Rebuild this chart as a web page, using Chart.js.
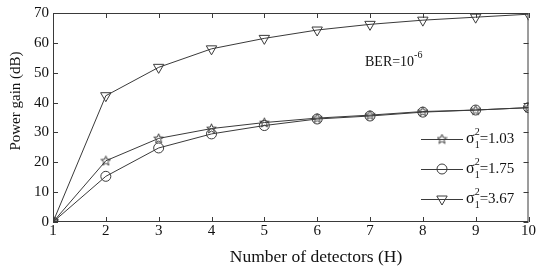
<!DOCTYPE html>
<html>
<head>
<meta charset="utf-8">
<script src="https://cdn.jsdelivr.net/npm/chart.js@4/dist/chart.umd.min.js"></script>
<style>
  html, body { margin: 0; padding: 0; background: #fff; }
  #wrap { width: 536px; height: 269px; }
</style>
</head>
<body>
<div id="wrap"><canvas id="myChart"></canvas></div>
<script>
// data
const detectors = [1, 2, 3, 4, 5, 6, 7, 8, 9, 10];
const gain103 = [0, 20.5, 28, 31.3, 33.3, 34.8, 35.8, 37, 37.5, 38.3];
const gain175 = [0, 15.3, 24.8, 29.5, 32.3, 34.5, 35.5, 36.8, 37.5, 38.3];
const gain367 = [0, 42.3, 51.8, 58, 61.5, 64.3, 66.2, 67.6, 68.6, 69.6];
const seriesLabels = ['1.03', '1.75', '3.67'];
const yTicks = [0, 10, 20, 30, 40, 50, 60, 70];
const xTitle = 'Number of detectors (H)';
const yTitle = 'Power gain (dB)';

const ink = '#3a3a3a';
const serif = '"Liberation Serif", "Times New Roman", serif';

// five point star marker, outline only
const starImg = document.createElement('canvas');
starImg.width = 11; starImg.height = 11;
(function () {
  const c = starImg.getContext('2d');
  c.strokeStyle = ink;
  c.lineWidth = 1;
  c.beginPath();
  for (let i = 0; i < 10; i++) {
    const r = i % 2 === 0 ? 5 : 2.2;
    const a = -Math.PI / 2 + i * Math.PI / 5;
    const px = 5.5 + r * Math.cos(a), py = 5.8 + r * Math.sin(a);
    if (i === 0) c.moveTo(px, py); else c.lineTo(px, py);
  }
  c.closePath();
  c.stroke();
})();

const markers = [
  { pointStyle: starImg, radius: 5, rotation: 0 },
  { pointStyle: 'circle', radius: 5, rotation: 0 },
  { pointStyle: 'triangle', radius: 6, rotation: 180 }
];

// box, inward ticks, titles, annotation and legend
const decor = {
  id: 'decor',
  afterDraw(chart) {
    const ctx = chart.ctx;
    const a = chart.chartArea;
    const xs = chart.scales.x, ys = chart.scales.y;
    ctx.save();
    ctx.strokeStyle = ink;
    ctx.lineWidth = 1;
    ctx.strokeRect(a.left + 0.5, a.top + 0.5, a.right - a.left - 1, a.bottom - a.top - 1);
    ctx.beginPath();
    detectors.forEach(v => {
      const px = Math.round(xs.getPixelForValue(v)) + 0.5;
      ctx.moveTo(px, a.bottom); ctx.lineTo(px, a.bottom - 5);
      ctx.moveTo(px, a.top); ctx.lineTo(px, a.top + 5);
    });
    yTicks.forEach(v => {
      const py = Math.round(ys.getPixelForValue(v)) + 0.5;
      ctx.moveTo(a.left, py); ctx.lineTo(a.left + 5, py);
      ctx.moveTo(a.right, py); ctx.lineTo(a.right - 5, py);
    });
    ctx.stroke();

    // axis titles (sit a little off centre in the original)
    ctx.fillStyle = '#111';
    ctx.textBaseline = 'middle';
    ctx.textAlign = 'center';
    ctx.font = '17.5px ' + serif;
    ctx.fillText(xTitle, 316, 257);
    ctx.save();
    ctx.translate(16, 101);
    ctx.rotate(-Math.PI / 2);
    ctx.font = '15px ' + serif;
    ctx.fillText(yTitle, 0, 0);
    ctx.restore();

    // BER annotation
    ctx.textAlign = 'left';
    ctx.font = '14px ' + serif;
    const bx = 365, by = 62;
    ctx.fillText('BER=10', bx, by);
    const bw = ctx.measureText('BER=10').width;
    ctx.font = '10px ' + serif;
    ctx.fillText('-6', bx + bw, by - 7);

    // legend
    const rows = [139, 169, 199];
    seriesLabels.forEach((lab, i) => {
      const y = rows[i];
      ctx.strokeStyle = ink;
      ctx.beginPath();
      ctx.moveTo(421, y + 0.5); ctx.lineTo(463, y + 0.5);
      ctx.stroke();
      ctx.fillStyle = 'rgba(0,0,0,0)';
      Chart.helpers.drawPoint(ctx, { pointStyle: markers[i].pointStyle, radius: markers[i].radius,
        rotation: markers[i].rotation, borderWidth: 1 }, 442, y);
      ctx.fillStyle = '#111';
      ctx.font = '16px ' + serif;
      ctx.fillText('\u03c3', 466, y);
      const sw = ctx.measureText('\u03c3').width;
      ctx.font = '10px ' + serif;
      ctx.fillText('1', 466 + sw, y + 6);
      ctx.fillText('2', 466 + sw, y - 7);
      const iw = ctx.measureText('2').width;
      ctx.font = '15px ' + serif;
      ctx.fillText('=' + lab, 466 + sw + iw, y);
    });
    ctx.restore();
  }
};

const series = [gain103, gain175, gain367];
const ctx = document.getElementById('myChart').getContext('2d');
// eslint-disable-next-line no-unused-vars
const chart = new Chart(ctx, {
  type: 'line',
  data: {
    labels: detectors,
    datasets: series.map((vals, i) => ({
      label: seriesLabels[i],
      data: vals.map((v, j) => ({ x: detectors[j], y: v })),
      borderColor: ink,
      borderWidth: 1,
      backgroundColor: 'rgba(0,0,0,0)',
      pointStyle: markers[i].pointStyle,
      pointRadius: markers[i].radius,
      pointRotation: markers[i].rotation,
      pointBorderColor: ink,
      pointBorderWidth: 1,
      tension: 0
    }))
  },
  options: {
    responsive: true,
    maintainAspectRatio: false,
    animation: false,
    layout: { padding: { top: 13, right: 0, left: 0, bottom: 0 } },
    plugins: { legend: { display: false }, tooltip: { enabled: false } },
    scales: {
      x: {
        type: 'linear', min: 1, max: 10,
        afterBuildTicks: s => { s.ticks = detectors.map(v => ({ value: v })); },
        afterFit: s => { s.height = 47; },
        grid: { display: false, drawTicks: false },
        border: { display: false },
        ticks: { color: '#111', font: { family: serif, size: 15 }, padding: 0, maxRotation: 0 }
      },
      y: {
        min: 0, max: 70,
        afterBuildTicks: s => { s.ticks = yTicks.map(v => ({ value: v })); },
        afterFit: s => { s.width = 53; },
        grid: { display: false, drawTicks: false },
        border: { display: false },
        ticks: { color: '#111', font: { family: serif, size: 15 }, padding: 4 }
      }
    }
  },
  plugins: [decor]
});
</script>
</body>
</html>
